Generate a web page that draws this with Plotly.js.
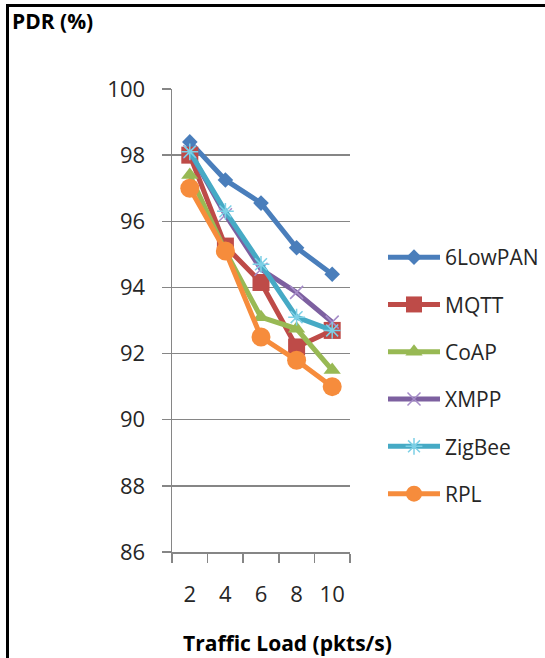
<!DOCTYPE html>
<html>
<head>
<meta charset="utf-8">
<script src="https://cdn.plot.ly/plotly-3.0.1.min.js"></script>
<style>
  html, body { margin: 0; padding: 0; background: #fff; }
  #wrap { position: relative; width: 545px; height: 658px; overflow: hidden; }
  #chart { position: absolute; left: 0; top: 0; width: 545px; height: 658px; }
  #frame {
    position: absolute; left: 6px; top: 4px; width: 560px; height: 700px;
    border-top: 3px solid #000; border-left: 3px solid #000;
    pointer-events: none; box-sizing: border-box;
  }
</style>
</head>
<body>
<div id="wrap">
  <div id="chart"></div>
  <div id="frame"></div>
</div>
<script>
// Traffic load categories (pkts/s)
const loads = ['2', '4', '6', '8', '10'];

// Packet delivery ratio (%) per protocol
const sixLowPAN = [98.4, 97.25, 96.55, 95.2, 94.4];
const mqtt      = [98.0, 95.25, 94.15, 92.2, 92.7];
const coap      = [97.4, 95.1, 93.1, 92.75, 91.5];
const xmpp      = [98.1, 96.2, 94.55, 93.85, 92.95];
const zigbee    = [98.1, 96.3, 94.7, 93.1, 92.7];
const rpl       = [97.0, 95.1, 92.5, 91.8, 91.0];

const FONT = '"Open Sans", "Noto Sans", sans-serif';
const AXIS_GREY = '#868686';

// plot-area geometry in pixels
const W = 545, H = 658;
const M = { l: 172, r: 195, t: 89, b: 106 };
const plotW = W - M.l - M.r;
const plotH = H - M.t - M.b;

function series(name, y, color, symbol, size, extra) {
  return Object.assign({
    type: 'scatter',
    mode: 'lines+markers',
    name: name,
    legendgroup: name,
    x: loads,
    y: y,
    line: { color: color, width: 5 },
    marker: { color: color, symbol: symbol, size: size, line: { width: 0 } }
  }, extra || {});
}

const traces = [
  series('6LowPAN', sixLowPAN, '#4A7EBB', 'diamond', 12),
  series('MQTT', mqtt, '#BE4B48', 'square', 17),
  series('CoAP', coap, '#98B954', 'triangle-up', 15),
  series('XMPP', xmpp, '#7D60A0', 'x-thin-open', 13,
         { marker: { color: '#A58CC8', symbol: 'x-thin-open', size: 13, line: { width: 1.5, color: '#A58CC8' } } }),
  series('ZigBee', zigbee, '#46AAC5', 'asterisk-open', 14,
         { marker: { color: '#7DD0E6', symbol: 'asterisk-open', size: 14, line: { width: 1.5, color: '#7DD0E6' } } }),
  series('RPL', rpl, '#F68C3C', 'circle', 19)
];

const layout = {
  width: W,
  height: H,
  margin: { l: M.l, r: M.r, t: M.t, b: M.b, pad: 0 },
  paper_bgcolor: '#fff',
  plot_bgcolor: '#fff',
  font: { family: FONT, size: 22, color: '#262626' },
  showlegend: true,
  title: {
    text: '<b>PDR (%)</b>',
    font: { family: FONT, size: 21, color: '#000' },
    xref: 'container', x: 12 / W, xanchor: 'left',
    yref: 'container', y: 1 - 22 / H, yanchor: 'middle'
  },
  xaxis: {
    type: 'category',
    range: [-0.5, 4.5],
    tickson: 'boundaries',
    ticks: 'outside',
    ticklen: 9,
    tickwidth: 1.5,
    tickcolor: AXIS_GREY,
    showline: true,
    linecolor: AXIS_GREY,
    linewidth: 1.5,
    showgrid: false,
    zeroline: false,
    ticklabelstandoff: 22,
    tickfont: { family: FONT, size: 22, color: '#262626' },
    fixedrange: true
  },
  yaxis: {
    range: [86, 100],
    tick0: 86,
    dtick: 2,
    ticks: 'outside',
    ticklen: 9,
    tickwidth: 1.5,
    tickcolor: AXIS_GREY,
    showline: true,
    linecolor: AXIS_GREY,
    linewidth: 1.5,
    showgrid: true,
    gridcolor: AXIS_GREY,
    gridwidth: 1.5,
    zeroline: false,
    ticklabelstandoff: 12,
    tickfont: { family: FONT, size: 22, color: '#262626' },
    fixedrange: true
  },
  legend: {
    xref: 'container', yref: 'container',
    x: 383 / W, xanchor: 'left',
    y: 1 - 237 / H, yanchor: 'top',
    bgcolor: 'rgba(0,0,0,0)',
    borderwidth: 0,
    font: { family: FONT, size: 21, color: '#262626' },
    itemwidth: 52,
    tracegroupgap: 17,
    traceorder: 'grouped'
  },
  annotations: [{
    text: '<b>Traffic Load (pkts/s)</b>',
    xref: 'paper', yref: 'paper',
    x: (287 - M.l) / plotW,
    y: ((H - M.b) - 643) / plotH,
    xanchor: 'center', yanchor: 'middle',
    showarrow: false,
    font: { family: FONT, size: 21, color: '#000' }
  }]
};

Plotly.newPlot('chart', traces, layout, { displayModeBar: false, staticPlot: true });
</script>
</body>
</html>
